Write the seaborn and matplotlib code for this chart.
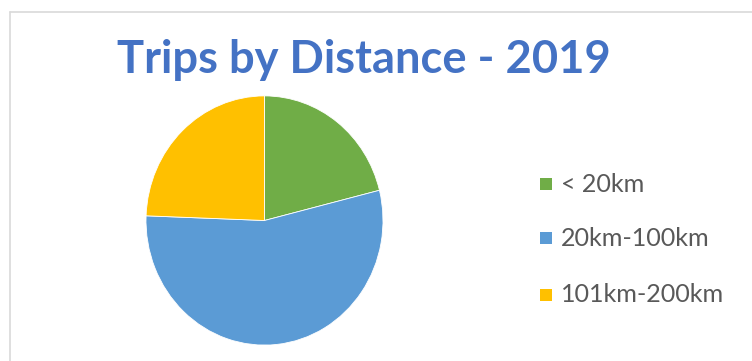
import matplotlib
matplotlib.use("Agg")
import matplotlib.pyplot as plt
import seaborn as sns
from matplotlib.lines import Line2D
from matplotlib.patches import Rectangle

categories = ["< 20km", "20km-100km", "101km-200km"]
shares = [21.1, 54.5, 24.4]
colors = ["#70AD47", "#5B9BD5", "#FFC000"]
title = "Trips by Distance - 2019"

sns.set_theme(style="white")
plt.rcParams["font.family"] = ["Lato", "DejaVu Sans"]

W, H = 752, 361
fig = plt.figure(figsize=(W / 100, H / 100), dpi=100)

# chart-area border (top and left visible)
fig.add_artist(Line2D([9.5 / W, 9.5 / W], [0, 1 - 12 / H], color="#D9D9D9", lw=1.2))
fig.add_artist(Line2D([9.5 / W, 1], [1 - 12 / H, 1 - 12 / H], color="#D9D9D9", lw=1.2))

# pie axes
cx, cy, rx, ry = 264.5, 220.5, 118.5, 124.6
ax = fig.add_axes([(cx - rx) / W, (H - cy - ry) / H, 2 * rx / W, 2 * ry / H])
wedges, _ = ax.pie(shares, colors=colors, startangle=90, counterclock=False,
                   wedgeprops=dict(linewidth=0.6, edgecolor="white"))
ax.set_aspect("auto")
ax.set_xlim(-1, 1)
ax.set_ylim(-1, 1)
ax.axis("off")

# title, fitted to width
t = fig.text(363.5 / W, 1 - 60 / H, title, ha="center", va="center",
             color="#4472C4", fontsize=30, fontweight="bold")
fig.canvas.draw()
bb = t.get_window_extent()
t.set_fontsize(30 * 493 / bb.width)

# legend
ys = [184, 238, 295]
texts = []
for lab, col, y in zip(categories, colors, ys):
    fig.add_artist(Rectangle((540 / W, 1 - (y + 6) / H), 12 / W, 12 / H,
                             facecolor=col, edgecolor="none"))
    texts.append(fig.text(561 / W, 1 - y / H, lab, ha="left", va="center",
                          color="#595959", fontsize=17))
fig.canvas.draw()
w = texts[1].get_window_extent().width
for tx in texts:
    tx.set_fontsize(17 * 149 / w)

fig.savefig("out.png", dpi=100)
